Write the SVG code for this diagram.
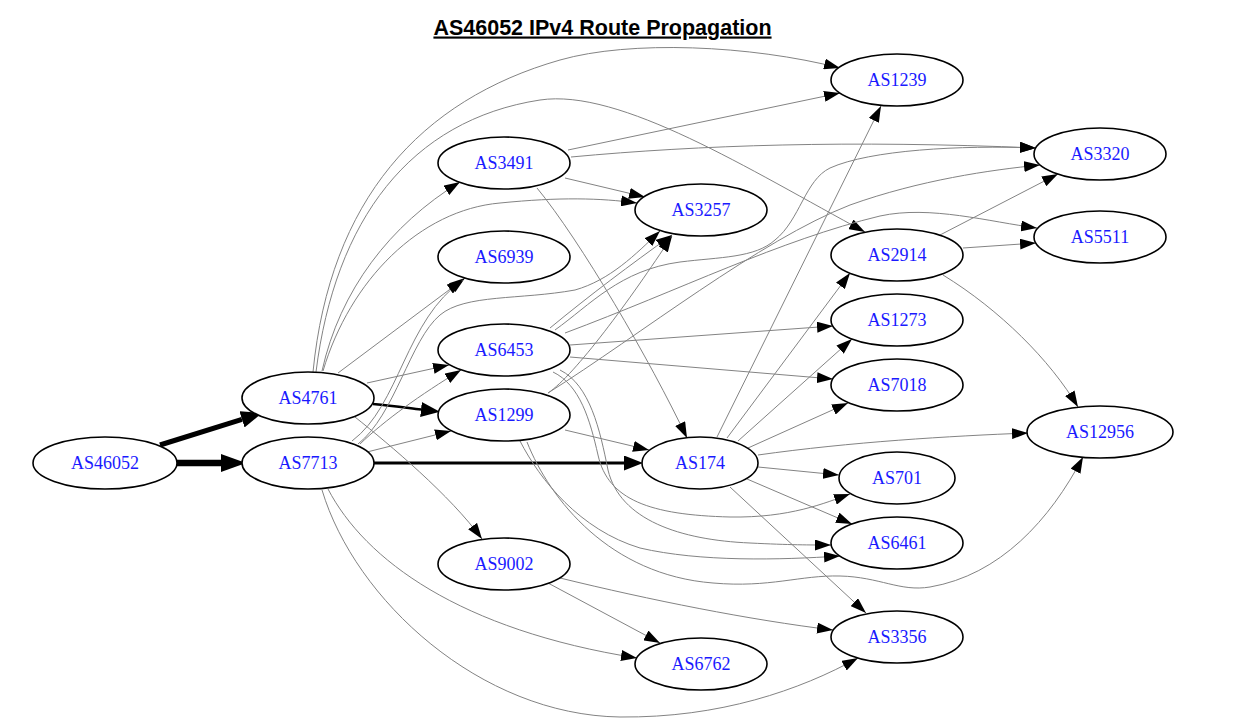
<svg xmlns="http://www.w3.org/2000/svg" width="1238" height="725" viewBox="0 0 1238 725">
<style>
.n ellipse{fill:#fff;stroke:#000;stroke-width:1.6}
.n text{font-family:"Liberation Serif","Times New Roman",serif;font-size:18px;fill:#1a1aff;text-anchor:middle}
.e path{fill:none;stroke:#838383;stroke-width:1;marker-end:url(#a)}
.e path.t{stroke:#000}
.title{font-family:"Liberation Sans",Arial,sans-serif;font-size:21.5px;font-weight:bold;text-anchor:middle;text-decoration:underline;fill:#000}
</style>
<defs>
<marker id="a" viewBox="0 0 16 11" refX="16" refY="5.5" markerWidth="16" markerHeight="11" markerUnits="userSpaceOnUse" orient="auto"><path d="M0,0 L16,5.5 L0,11 z" fill="#000"/></marker>
<marker id="ab1" viewBox="0 0 21 17" refX="0" refY="8.5" markerWidth="21" markerHeight="17" markerUnits="userSpaceOnUse" orient="auto"><path d="M0,0 L21,8.5 L0,17 z" fill="#000"/></marker>
<marker id="ab2" viewBox="0 0 25 18" refX="0" refY="9" markerWidth="25" markerHeight="18" markerUnits="userSpaceOnUse" orient="auto"><path d="M0,0 L25,9 L0,18 z" fill="#000"/></marker>
<marker id="am" viewBox="0 0 19 15" refX="0" refY="7.5" markerWidth="19" markerHeight="15" markerUnits="userSpaceOnUse" orient="auto"><path d="M0,0 L19,7.5 L0,15 z" fill="#000"/></marker>
</defs>
<rect width="1238" height="725" fill="#fff"/>
<text class="title" x="602.5" y="34.5">AS46052 IPv4 Route Propagation</text>
<g id="connectors" class="e">
<path class="t" d="M160,445 L242,419.3" style="stroke-width:5;marker-end:url(#ab1)"/>
<path class="t" d="M177,463 L221,463" style="stroke-width:6.5;marker-end:url(#ab2)"/>
<path class="t" d="M373,404 C395,406 408,408 421,409.5" style="stroke-width:2.5;marker-end:url(#am)"/>
<path class="t" d="M374,463 L624,463" style="stroke-width:3;marker-end:url(#am)"/>
<path d="M313,372 C330,200 420,100 560,60 C630,40 750,45 840,68"/>
<path d="M316,372 C335,220 410,120 540,100 C620,88 750,170 865,232"/>
<path d="M322,371 C340,290 390,225 460,182"/>
<path d="M323,371 C350,280 420,210 500,203 C560,197 600,198 637,203"/>
<path d="M338,373 L465,278"/>
<path d="M367,383 L449,365"/>
<path d="M355,417 C390,445 450,495 482,539"/>
<path d="M367,452 L451,431"/>
<path d="M360,444 C385,420 420,395 461,370"/>
<path d="M352,441 C400,405 405,320 463,280"/>
<path d="M358,444 C395,415 410,340 440,315 C465,294 520,300 575,290 C610,280 635,255 660,231"/>
<path d="M328,489 C365,560 460,630 637,658"/>
<path d="M322,490 C355,600 480,715 620,717 C720,718 800,690 858,658"/>
<path d="M568,150 L840,93"/>
<path d="M571,157 C700,145 850,140 1036,148"/>
<path d="M565,178 L645,197"/>
<path d="M537,188 C580,240 650,360 687,438"/>
<path d="M550,328 C590,295 630,265 672,235"/>
<path d="M548,393 C575,375 630,300 672,236"/>
<path d="M555,330 C590,305 620,270 680,262 C720,257 755,258 775,240 C800,220 805,180 830,168 C870,150 960,145 1036,148"/>
<path d="M565,333 C680,290 780,240 880,216 C930,205 990,222 1037,228"/>
<path d="M548,393 C640,335 760,240 850,205 C920,180 990,170 1040,165"/>
<path d="M570,345 L833,326"/>
<path d="M570,357 L833,379"/>
<path d="M553,372 C580,385 590,420 598,455 C608,500 650,515 730,517 C790,518 825,503 850,494"/>
<path d="M560,370 C590,385 600,430 608,470 C620,520 680,540 750,543 C790,545 810,545 831,545"/>
<path d="M520,441 C540,480 580,530 640,548 C700,562 780,560 840,556"/>
<path d="M527,442 C550,500 610,575 713,583 C770,588 800,575 840,576 C880,577 900,592 930,587 C1000,575 1050,520 1083,457"/>
<path d="M565,430 L649,450"/>
<path d="M717,437 L881,106"/>
<path d="M727,438 L850,273"/>
<path d="M738,441 L852,339"/>
<path d="M748,448 L848,403"/>
<path d="M758,455 C850,442 950,436 1028,433"/>
<path d="M758,467 L839,475"/>
<path d="M747,479 L852,524"/>
<path d="M730,487 L866,613"/>
<path d="M548,583 L660,643"/>
<path d="M560,578 C650,600 750,620 833,630"/>
<path d="M940,235 L1058,174"/>
<path d="M963,248 L1036,243"/>
<path d="M943,275 C1000,310 1050,360 1078,407"/>
</g>
<g id="AS46052" class="n"><ellipse cx="105" cy="463" rx="72" ry="26"/><text x="105" y="469">AS46052</text></g>
<g id="AS4761" class="n"><ellipse cx="308" cy="398" rx="66" ry="26"/><text x="308" y="404">AS4761</text></g>
<g id="AS7713" class="n"><ellipse cx="308" cy="463" rx="66" ry="26"/><text x="308" y="469">AS7713</text></g>
<g id="AS3491" class="n"><ellipse cx="504" cy="163" rx="66" ry="26"/><text x="504" y="169">AS3491</text></g>
<g id="AS6939" class="n"><ellipse cx="504" cy="257" rx="66" ry="26"/><text x="504" y="263">AS6939</text></g>
<g id="AS6453" class="n"><ellipse cx="504" cy="350" rx="66" ry="26"/><text x="504" y="356">AS6453</text></g>
<g id="AS1299" class="n"><ellipse cx="504" cy="415" rx="66" ry="26"/><text x="504" y="421">AS1299</text></g>
<g id="AS9002" class="n"><ellipse cx="504" cy="564" rx="66" ry="26"/><text x="504" y="570">AS9002</text></g>
<g id="AS3257" class="n"><ellipse cx="701" cy="210" rx="66" ry="26"/><text x="701" y="216">AS3257</text></g>
<g id="AS174" class="n"><ellipse cx="700" cy="463" rx="58" ry="26"/><text x="700" y="469">AS174</text></g>
<g id="AS6762" class="n"><ellipse cx="701" cy="664" rx="66" ry="26"/><text x="701" y="670">AS6762</text></g>
<g id="AS1239" class="n"><ellipse cx="897" cy="80" rx="66" ry="26"/><text x="897" y="86">AS1239</text></g>
<g id="AS2914" class="n"><ellipse cx="897" cy="255" rx="66" ry="26"/><text x="897" y="261">AS2914</text></g>
<g id="AS1273" class="n"><ellipse cx="897" cy="320" rx="66" ry="26"/><text x="897" y="326">AS1273</text></g>
<g id="AS7018" class="n"><ellipse cx="897" cy="385" rx="66" ry="26"/><text x="897" y="391">AS7018</text></g>
<g id="AS701" class="n"><ellipse cx="897" cy="478" rx="58" ry="26"/><text x="897" y="484">AS701</text></g>
<g id="AS6461" class="n"><ellipse cx="897" cy="543" rx="66" ry="26"/><text x="897" y="549">AS6461</text></g>
<g id="AS3356" class="n"><ellipse cx="897" cy="637" rx="66" ry="26"/><text x="897" y="643">AS3356</text></g>
<g id="AS3320" class="n"><ellipse cx="1100" cy="154" rx="66" ry="26"/><text x="1100" y="160">AS3320</text></g>
<g id="AS5511" class="n"><ellipse cx="1100" cy="237" rx="66" ry="26"/><text x="1100" y="243">AS5511</text></g>
<g id="AS12956" class="n"><ellipse cx="1100" cy="432" rx="73" ry="26"/><text x="1100" y="438">AS12956</text></g>
</svg>
